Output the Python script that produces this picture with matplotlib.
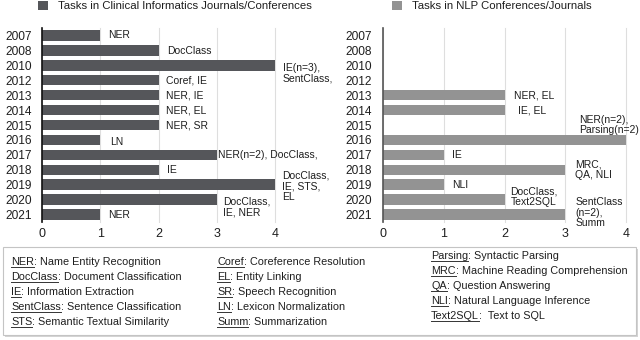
import matplotlib
matplotlib.use('Agg')
import matplotlib.pyplot as plt
from matplotlib.patches import Rectangle
from matplotlib.lines import Line2D

plt.rcParams['font.family'] = ['Liberation Sans', 'DejaVu Sans']

# data
years = ['2007', '2008', '2010', '2012', '2013', '2014', '2015',
         '2016', '2017', '2018', '2019', '2020', '2021']
clinical_counts = [1, 2, 4, 2, 2, 2, 2, 1, 3, 2, 4, 3, 1]
nlp_counts = [0, 0, 0, 0, 2, 2, 0, 4, 1, 3, 1, 2, 3]
clinical_tasks = ['NER', 'DocClass', 'IE(n=3),\nSentClass,', 'Coref, IE', 'NER, IE',
                  'NER, EL', 'NER, SR', 'LN', 'NER(n=2), DocClass,', 'IE',
                  'DocClass,\nIE, STS,\nEL', 'DocClass,\nIE, NER', 'NER']
nlp_tasks = ['', '', '', '', 'NER, EL', 'IE, EL', '', 'NER(n=2),\nParsing(n=2)',
             'IE', 'MRC,\nQA, NLI', 'NLI', 'DocClass,\nText2SQL', 'SentClass\n(n=2),\nSumm']

glossary_col1 = [('NER', 'Name Entity Recognition'),
                 ('DocClass', 'Document Classification'),
                 ('IE', 'Information Extraction'),
                 ('SentClass', 'Sentence Classification'),
                 ('STS', 'Semantic Textual Similarity')]
glossary_col2 = [('Coref', 'Coreference Resolution'),
                 ('EL', 'Entity Linking'),
                 ('SR', 'Speech Recognition'),
                 ('LN', 'Lexicon Normalization'),
                 ('Summ', 'Summarization')]
glossary_col3 = [('Parsing', 'Syntactic Parsing'),
                 ('MRC', 'Machine Reading Comprehension'),
                 ('QA', 'Question Answering'),
                 ('NLI', 'Natural Language Inference'),
                 ('Text2SQL', ' Text to SQL')]

# label offsets in pixels (dx, dy), default (8, 0)
clinical_offsets = {1: (9, -1), 2: (8, -8), 7: (10, -2), 8: (1, 0), 10: (7, -2), 11: (6, -7)}
nlp_offsets = {4: (10, 0), 5: (13, 0), 7: (-47, 15), 9: (10, 0), 11: (6, 3), 12: (10, 2)}

W, H = 640, 340
fig = plt.figure(figsize=(6.4, 3.4), dpi=100)
text_col = '#1e1e1e'


def draw_panel(ax, counts, tasks, color, spine_color, offsets, label, pad):
    pos = list(range(len(years)))
    bars = ax.barh(pos, counts, height=0.7, color=color, label=label, zorder=3)
    ax.set_xlim(0, 4)
    ax.set_ylim(len(years) - 0.5, -0.5)
    ax.set_yticks(pos)
    ax.set_yticklabels(years)
    ax.set_xticks(range(5))
    ax.tick_params(axis='y', length=0, labelsize=8.6, pad=pad, labelcolor=text_col)
    ax.tick_params(axis='x', length=0, labelsize=9, pad=4.5, labelcolor=text_col)
    ax.grid(axis='x', color='#dedede', lw=0.8, zorder=0)
    for gl in ax.get_xgridlines():
        gl.set_clip_on(False)
    ax.set_axisbelow(True)
    for s in ['top', 'right', 'bottom']:
        ax.spines[s].set_visible(False)
    ax.spines['left'].set_color(spine_color)
    ax.spines['left'].set_linewidth(1.2)
    ax.spines['left'].set_zorder(4)
    for i, (v, t) in enumerate(zip(counts, tasks)):
        if not t:
            continue
        dx, dy = offsets.get(i, (8, 0))
        ax.annotate(t, xy=(v, i), xytext=(dx, dy), textcoords='offset pixels',
                    ha='left', va='center', fontsize=7.5, linespacing=1.1,
                    color=text_col, annotation_clip=False)
    return bars


ax1 = fig.add_axes([42 / W, 118 / H, 233 / W, 194 / H])
ax2 = fig.add_axes([383 / W, 118 / H, 243 / W, 194 / H])
b1 = draw_panel(ax1, clinical_counts, clinical_tasks, '#55565a', '#111111',
                clinical_offsets, 'Tasks in Clinical Informatics Journals/Conferences', 7.2)
b2 = draw_panel(ax2, nlp_counts, nlp_tasks, '#939393', '#555555',
                nlp_offsets, 'Tasks in NLP Conferences/Journals', 8)

for ax, bars, x0 in [(ax1, b1, 38), (ax2, b2, 392)]:
    ax.legend(handles=[bars], loc='upper left', bbox_to_anchor=(x0 / W, 1 - 1 / H),
              bbox_transform=fig.transFigure, frameon=False, fontsize=8.2,
              handlelength=0.85, handleheight=0.85, handletextpad=0.9,
              borderpad=0, borderaxespad=0, labelcolor=text_col)

# glossary box
fig.add_artist(Rectangle((5 / W, 1 - 337 / H), 633 / W, 88 / H, transform=fig.transFigure,
                         facecolor='#d4d4d4', edgecolor='none', zorder=1))
fig.add_artist(Rectangle((3 / W, 1 - 335 / H), 633 / W, 88 / H, transform=fig.transFigure,
                         facecolor='white', edgecolor='#c4c4c4', lw=0.8, zorder=2))

fig.canvas.draw()
renderer = fig.canvas.get_renderer()
for col_x, base_y, entries in [(11, 265, glossary_col1), (217, 265, glossary_col2),
                               (431, 259, glossary_col3)]:
    for k, (abbr, desc) in enumerate(entries):
        yb = 1 - (base_y + 15 * k) / H
        t = fig.text(col_x / W, yb, abbr, va='baseline', ha='left', fontsize=7.8,
                     color=text_col, zorder=3)
        bb = t.get_window_extent(renderer)
        fig.text(bb.x1 / W, yb, ': ' + desc, va='baseline', ha='left', fontsize=7.8,
                 color=text_col, zorder=3)
        fig.add_artist(Line2D([bb.x0 / W, bb.x1 / W], [yb - 2 / H] * 2,
                              transform=fig.transFigure, lw=0.7, color='#333333', zorder=3))

fig.savefig('out.png', dpi=100)
